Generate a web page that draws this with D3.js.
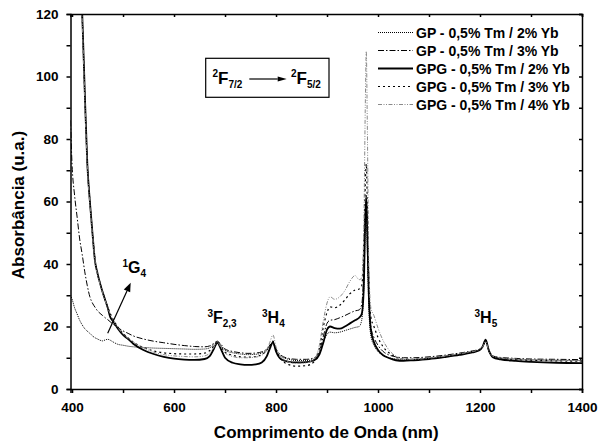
<!DOCTYPE html>
<html>
<head>
<meta charset="utf-8">
<script src="https://cdn.jsdelivr.net/npm/d3@7"></script>
<style>
  body { margin: 0; background: #fff; }
  svg text { font-family: Arial, "Liberation Sans", sans-serif; font-weight: bold; fill: #000; }
  .axis path, .axis line { stroke: #000; stroke-width: 1.5; }
</style>
</head>
<body>
<div id="chart"></div>
<script>
// wavelength grid (nm) shared by every spectrum
const wavelengths = [397, 400, 405, 410, 415, 420, 425, 430, 435, 440, 445, 450, 455, 460, 465, 470, 475, 480, 490, 500,
  510, 520, 540, 560, 580, 600, 620, 640, 660, 670, 678, 685, 692, 700, 715, 730, 745, 760, 772, 782,
  788, 794, 800, 810, 825, 840, 860, 875, 885, 893, 900, 906, 915, 925, 935, 945, 955, 963, 968, 972,
  975, 977, 979, 982, 986, 992, 1000, 1010, 1020, 1035, 1050, 1070, 1100, 1130, 1160, 1185, 1198, 1205, 1211, 1217,
  1225, 1240, 1270, 1300, 1350, 1400];

const gp2 = [30, 28.8, 26, 24, 22, 20.5, 19.3, 18.5, 17.8, 17, 16.4, 16, 15.6, 15.4, 15.7, 15.9, 15.6, 15.1, 14.3, 14,
  13.7, 13.5, 13.3, 13.1, 13, 12.9, 12.8, 12.7, 12.8, 13.2, 14.2, 15, 13.8, 12.4, 11.6, 11.2, 11, 11.1, 11.5, 12.4,
  13.6, 14.4, 12.3, 10.4, 9.5, 9.1, 9.1, 9.6, 11.2, 15, 17.5, 18.2, 18, 18.2, 18.7, 19.2, 19.7, 20, 22, 32,
  50, 56, 45, 26, 17, 14, 12, 10.8, 10.1, 9.6, 9.4, 9.5, 9.9, 10.5, 11.2, 12, 12.5, 13.5, 15.4, 12.4,
  10.4, 9.9, 9.5, 9.3, 9.2, 9.1];

const gp3 = [86, 72, 62, 55, 48, 43, 37.5, 33, 29.5, 27.5, 26.2, 25, 24.2, 23.5, 22.8, 22.2, 21.5, 20.8, 19.6, 18.6,
  17.8, 17, 16, 15.3, 14.8, 14.3, 13.9, 13.6, 13.5, 13.8, 14.6, 15.3, 14.3, 12.8, 12, 11.6, 11.4, 11.5, 11.9, 12.8,
  14, 14.8, 12.8, 10.8, 9.8, 9.5, 9.5, 10, 12, 17, 21, 22, 22.2, 22.8, 23.5, 24.3, 25, 25.3, 27, 38,
  56, 62, 50, 30, 20, 16.5, 14, 12, 11, 10.3, 10, 10, 10.3, 10.8, 11.5, 12.2, 12.7, 13.6, 15.2, 12.6,
  10.6, 10.1, 9.8, 9.6, 9.5, 9.4];

const gpg2 = [300, 250, 200, 170, 140, 120, 95, 72, 60, 50, 41, 37, 33.8, 31, 28.5, 26, 23, 21.8, 19.3, 17.3,
  16, 14.5, 12.5, 11.2, 10.3, 9.7, 9.4, 9.3, 9.6, 10.5, 12.8, 14.8, 12.8, 10, 8.4, 7.9, 7.7, 7.9, 8.5, 10.5,
  13, 15, 12, 9.5, 8.7, 8.5, 8.6, 9.2, 11, 15, 19, 20, 19.5, 19.3, 20, 21, 22, 22.8, 24, 32,
  55, 61, 50, 30, 19, 15, 12.5, 10.8, 10, 9.2, 9, 9.2, 9.6, 10.2, 10.9, 11.7, 12.3, 13.5, 15.8, 12.5,
  10.2, 9.5, 9, 8.7, 8.4, 8.3];

const gpg3 = [300, 250, 200, 168, 139, 119, 94, 72, 60, 50, 41.5, 37, 33.8, 31, 28.5, 26.2, 24.2, 22.5, 19.8, 17.8,
  16.3, 15, 13.3, 12.2, 11.6, 11.3, 11.2, 11.2, 11.5, 12.3, 13.8, 15, 13.5, 11.8, 10.8, 10.3, 10.2, 10.4, 11, 12.5,
  14, 15.3, 12.5, 9.5, 7.8, 7.3, 7.5, 8.8, 13, 20, 24.5, 26.3, 26, 26.8, 28.5, 30.5, 31.7, 32, 33, 45,
  65, 72, 60, 35, 23, 20, 16.5, 13.5, 11.8, 10.2, 9.6, 9.5, 9.8, 10.4, 11.1, 11.9, 12.5, 13.5, 15.3, 12.3,
  10.3, 9.8, 9.4, 9.2, 9, 8.9];

const gpg4 = [300, 250, 200, 165, 138, 118, 93, 71, 59, 49.5, 41, 36.5, 33.5, 30.8, 28.3, 26, 24, 22.2, 19.6, 17.6,
  16.2, 15, 13.2, 11.8, 11, 10.6, 10.4, 10.3, 10.6, 11.5, 13.3, 15, 13.3, 11.5, 10.4, 10, 10, 10.2, 10.8, 12.5,
  15, 17.3, 13.5, 10, 8.6, 8.2, 8.4, 9.5, 14, 22, 27.5, 29.5, 28.7, 29.5, 31.5, 34.5, 36.3, 35, 35.5, 50,
  90, 108, 85, 40, 26, 23.5, 19.5, 15.5, 12.8, 10.5, 9.5, 9.5, 9.9, 10.5, 11.3, 12, 12.6, 13.5, 15.2, 12.5,
  10.5, 10, 9.6, 9.4, 9.2, 9];

const seriesNames = ["GP - 0,5% Tm / 2% Yb", "GP - 0,5% Tm / 3% Yb", "GPG - 0,5% Tm / 2% Yb",
  "GPG - 0,5% Tm / 3% Yb", "GPG - 0,5% Tm / 4% Yb"];
const seriesValues = [gp2, gp3, gpg2, gpg3, gpg4];

const xTicks = [400, 500, 600, 700, 800, 900, 1000, 1100, 1200, 1300, 1400];
const yTicks = [0, 10, 20, 30, 40, 50, 60, 70, 80, 90, 100, 110, 120];

// line styles, same order as seriesNames
const styles = [
  { color: "#000", width: 1, dash: "1,1" },
  { color: "#000", width: 1, dash: "6,2,1.5,2" },
  { color: "#000", width: 1.8, dash: null },
  { color: "#000", width: 1.2, dash: "2,3" },
  { color: "#8a8a8a", width: 1, dash: "4,1.5,1,1.5,1,1.5" }
];

const W = 598, H = 446;
const plotL = 70.5, plotR = 582, plotT = 14, plotB = 389;

const svg = d3.select("#chart").append("svg")
  .attr("width", W)
  .attr("height", H);

const x = d3.scaleLinear().domain([397, 1400]).range([plotL, plotR]);
const y = d3.scaleLinear().domain([0, 120]).range([plotB, plotT]);

svg.append("defs").append("clipPath")
  .attr("id", "plot-clip")
  .append("rect")
  .attr("x", plotL).attr("y", plotT)
  .attr("width", plotR - plotL).attr("height", plotB - plotT);

// spectra
const line = d3.line()
  .x(d => x(d[0]))
  .y(d => y(d[1]))
  .curve(d3.curveMonotoneX);

const plot = svg.append("g").attr("clip-path", "url(#plot-clip)");
seriesValues.forEach((vals, i) => {
  plot.append("path")
    .datum(wavelengths.map((w, j) => [w, vals[j]]))
    .attr("fill", "none")
    .attr("stroke", styles[i].color)
    .attr("stroke-width", styles[i].width)
    .attr("stroke-dasharray", styles[i].dash)
    .attr("d", line);
});

// axes
const xAxis = svg.append("g")
  .attr("class", "axis")
  .attr("transform", `translate(0, ${plotB})`)
  .call(d3.axisBottom(x).tickValues(xTicks).tickSize(4).tickPadding(9)
    .tickFormat(d => d % 200 === 0 ? d : ""));
xAxis.selectAll("text").style("font-size", "13.5px");

const yAxis = svg.append("g")
  .attr("class", "axis")
  .attr("transform", `translate(${plotL}, 0)`)
  .call(d3.axisLeft(y).tickValues(yTicks).tickSize(4).tickPadding(8)
    .tickFormat(d => d % 20 === 0 ? d : ""));
yAxis.selectAll("text").style("font-size", "13.5px");

svg.append("g")
  .attr("class", "axis")
  .attr("transform", `translate(0, ${plotT})`)
  .call(d3.axisTop(x).tickValues(xTicks).tickSize(-3).tickFormat(""));

svg.append("g")
  .attr("class", "axis")
  .attr("transform", `translate(${plotR}, 0)`)
  .call(d3.axisRight(y).tickValues(yTicks).tickSize(-3).tickFormat(""));

// axis titles
svg.append("text")
  .attr("x", (plotL + plotR) / 2)
  .attr("y", 438)
  .attr("text-anchor", "middle")
  .style("font-size", "17px")
  .text("Comprimento de Onda (nm)");

svg.append("text")
  .attr("transform", "translate(23.5, 205) rotate(-90)")
  .attr("text-anchor", "middle")
  .style("font-size", "17px")
  .text("Absorbância (u.a.)");

// legend
const legend = svg.append("g");
seriesNames.forEach((name, i) => {
  const ly = 32.5 + i * 18;
  legend.append("line")
    .attr("x1", 378).attr("x2", 413)
    .attr("y1", ly).attr("y2", ly)
    .attr("stroke", styles[i].color)
    .attr("stroke-width", styles[i].width)
    .attr("stroke-dasharray", styles[i].dash);
  legend.append("text")
    .attr("x", 416)
    .attr("y", ly + 5)
    .style("font-size", "14px")
    .text(name);
});

// term symbol labels: superscript, letter, subscript
function term(px, py, sup, main, sub, size) {
  const t = svg.append("text").attr("x", px).attr("y", py).style("font-size", size + "px");
  t.append("tspan").style("font-size", "10px").attr("dy", -size * 0.4).text(sup);
  t.append("tspan").attr("dy", size * 0.4).text(main);
  t.append("tspan").style("font-size", "10px").attr("dy", 4).text(sub);
}

term(122.5, 273, "1", "G", "4", 16);
term(207.4, 323, "3", "F", "2,3", 16);
term(262, 323, "3", "H", "4", 16);
term(474.5, 323, "3", "H", "5", 16);

// transition box
svg.append("rect")
  .attr("x", 205.7).attr("y", 58.3)
  .attr("width", 123.3).attr("height", 39)
  .attr("fill", "none")
  .attr("stroke", "#000")
  .attr("stroke-width", 1.2);
term(212.5, 84, "2", "F", "7/2", 17);
term(291, 84, "2", "F", "5/2", 17);

function arrow(x1, y1, x2, y2, len, half) {
  const a = Math.atan2(y2 - y1, x2 - x1);
  const bx = x2 - len * Math.cos(a), by = y2 - len * Math.sin(a);
  svg.append("line")
    .attr("x1", x1).attr("y1", y1).attr("x2", bx).attr("y2", by)
    .attr("stroke", "#000").attr("stroke-width", 1.2);
  const pts = [
    [x2, y2],
    [bx + half * Math.sin(a), by - half * Math.cos(a)],
    [bx - half * Math.sin(a), by + half * Math.cos(a)]
  ];
  svg.append("polygon")
    .attr("points", pts.map(p => p.join(",")).join(" "))
    .attr("fill", "#000");
}

arrow(249.3, 79, 286.7, 79, 9, 2.5);
arrow(107.7, 333.3, 130.7, 282.7, 9, 3.5);
</script>
</body>
</html>
